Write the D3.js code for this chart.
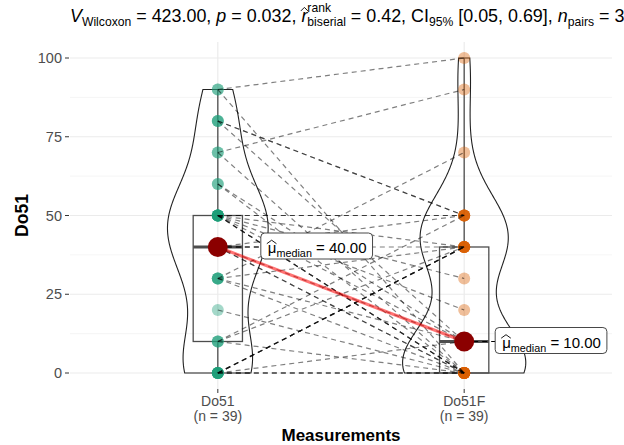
<!DOCTYPE html>
<html>
<head>
<meta charset="utf-8">
<script src="https://cdn.jsdelivr.net/npm/d3@7"></script>
<style>
  body { margin: 0; background: #fff; }
  text { font-family: "Liberation Sans", Arial, sans-serif; }
</style>
</head>
<body>
<svg id="chart" width="624" height="445"></svg>
<script>
// paired measurements (same subject in each position)
var groups = ["Do51", "Do51F"]
var groupLabels = ["(n = 39)", "(n = 39)"]
var pre  = [90,90, 80,80,80, 70,70, 60,60,
            50,50,50,50,50,50,50,50,50,
            40,40,40,40,40, 30,30,30,30, 20, 10,10,10,
            0,0,0,0,0,0,0,0]
var post = [100,0, 50,50,10, 90,0, 0,10,
            50,50,30,0,0,10,40,0,20,
            40,10,0,0,50, 70,10,0,40, 0, 0,40,50,
            0,0,0,40,40,40,10,40]
var yTicks = [0, 25, 50, 75, 100]
var yMinor = [12.5, 37.5, 62.5, 87.5]
var medianLabels = ["40.00", "10.00"]
var pointColors = ["#1b9e77", "#d95f02"]

var svg = d3.select("#chart")

var y = d3.scaleLinear().domain([-5, 105]).range([388.75, 42.25])
var x = d3.scalePoint().domain(groups).range([70, 612]).padding(0.6)
var step = x.step()

// grid
svg.selectAll(".minor").data(yMinor).enter().append("line")
    .attr("x1", 70).attr("x2", 612)
    .attr("y1", d => y(d)).attr("y2", d => y(d))
    .attr("stroke", "#f2f2f2").attr("stroke-width", 0.8)
svg.selectAll(".major").data(yTicks).enter().append("line")
    .attr("x1", 70).attr("x2", 612)
    .attr("y1", d => y(d)).attr("y2", d => y(d))
    .attr("stroke", "#ebebeb").attr("stroke-width", 1.2)
svg.selectAll(".vgrid").data(groups).enter().append("line")
    .attr("x1", d => x(d)).attr("x2", d => x(d))
    .attr("y1", 42).attr("y2", 389)
    .attr("stroke", "#ebebeb").attr("stroke-width", 1.2)

// y axis
svg.selectAll(".ytick").data(yTicks).enter().append("line")
    .attr("x1", 65).attr("x2", 69)
    .attr("y1", d => y(d)).attr("y2", d => y(d))
    .attr("stroke", "#333").attr("stroke-width", 1)
svg.selectAll(".ylab").data(yTicks).enter().append("text")
    .attr("x", 62).attr("y", d => y(d) + 5)
    .attr("text-anchor", "end").attr("font-size", 14.5).attr("fill", "#4d4d4d")
    .text(d => d)
svg.append("text")
    .attr("transform", "translate(28," + y(50) + ") rotate(-90)")
    .attr("text-anchor", "middle").attr("font-size", 17.5).attr("font-weight", "bold")
    .text("Do51")

// x axis
svg.selectAll(".xtick").data(groups).enter().append("line")
    .attr("x1", d => x(d)).attr("x2", d => x(d))
    .attr("y1", 389).attr("y2", 393)
    .attr("stroke", "#333").attr("stroke-width", 1)
svg.selectAll(".xlab").data(groups).enter().append("text")
    .attr("x", d => x(d)).attr("y", 406)
    .attr("text-anchor", "middle").attr("font-size", 14).attr("fill", "#4d4d4d")
    .text(d => d)
svg.selectAll(".xlab2").data(groups).enter().append("text")
    .attr("x", d => x(d)).attr("y", 421)
    .attr("text-anchor", "middle").attr("font-size", 14).attr("fill", "#4d4d4d")
    .text((d, i) => groupLabels[i])
svg.append("text")
    .attr("x", 341).attr("y", 441)
    .attr("text-anchor", "middle").attr("font-size", 17).attr("font-weight", "bold")
    .text("Measurements")

// violins (gaussian kde, nrd0 bandwidth, area scaling)
var series = [pre, post]
function kde(vals) {
    var s = vals.slice().sort(d3.ascending)
    var iqr = d3.quantile(s, 0.75) - d3.quantile(s, 0.25)
    var bw = 0.9 * Math.min(d3.deviation(s), iqr / 1.34) * Math.pow(s.length, -0.2)
    var lo = d3.min(s), hi = d3.max(s)
    var pts = d3.range(0, 201).map(i => lo + (hi - lo) * i / 200)
    return pts.map(v => [v, d3.mean(s, d => Math.exp(-0.5 * ((v - d) / bw) ** 2)) / (bw * Math.sqrt(2 * Math.PI))])
}
var dens = series.map(kde)
var maxD = d3.max(dens, d => d3.max(d, e => e[1]))
var halfW = d3.scaleLinear().domain([0, maxD]).range([0, step * 0.25])

dens.forEach(function (dd, i) {
    var cx = x(groups[i])
    var right = dd.map(d => [cx + halfW(d[1]), y(d[0])])
    var left = dd.slice().reverse().map(d => [cx - halfW(d[1]), y(d[0])])
    svg.append("path")
        .attr("d", d3.line()(right.concat(left)) + "Z")
        .attr("fill", "none").attr("stroke", "#222").attr("stroke-width", 1.1)
})

// boxplots
series.forEach(function (vals, i) {
    var s = vals.slice().sort(d3.ascending)
    var q1 = d3.quantile(s, 0.25), q2 = d3.quantile(s, 0.5), q3 = d3.quantile(s, 0.75)
    var iqr = q3 - q1
    var wLo = d3.min(s.filter(v => v >= q1 - 1.5 * iqr))
    var wHi = d3.max(s.filter(v => v <= q3 + 1.5 * iqr))
    var cx = x(groups[i]), bw = step * 0.2
    var g = svg.append("g").attr("stroke", "#4d4d4d")
    g.append("line").attr("x1", cx).attr("x2", cx).attr("y1", y(q3)).attr("y2", y(wHi)).attr("stroke-width", 1.3)
    g.append("line").attr("x1", cx).attr("x2", cx).attr("y1", y(q1)).attr("y2", y(wLo)).attr("stroke-width", 1.3)
    g.append("rect").attr("x", cx - bw / 2).attr("y", y(q3)).attr("width", bw).attr("height", y(q1) - y(q3))
        .attr("fill", "none").attr("stroke-width", 1.3)
    g.append("line").attr("x1", cx - bw / 2).attr("x2", cx + bw / 2).attr("y1", y(q2)).attr("y2", y(q2)).attr("stroke-width", 3)
})

// points
series.forEach(function (vals, i) {
    svg.append("g").selectAll("circle").data(vals).enter().append("circle")
        .attr("cx", x(groups[i])).attr("cy", d => y(d)).attr("r", 6)
        .attr("fill", pointColors[i]).attr("fill-opacity", 0.4)
})

// paired lines
svg.append("g").selectAll("line").data(pre).enter().append("line")
    .attr("x1", x(groups[0])).attr("y1", d => y(d))
    .attr("x2", x(groups[1])).attr("y2", (d, i) => y(post[i]))
    .attr("stroke", "#000").attr("stroke-opacity", 0.5)
    .attr("stroke-width", 1.2).attr("stroke-dasharray", "5,4")

// medians
var meds = series.map(v => d3.median(v))
svg.append("line")
    .attr("x1", x(groups[0])).attr("y1", y(meds[0]))
    .attr("x2", x(groups[1])).attr("y2", y(meds[1]))
    .attr("stroke", "red").attr("stroke-opacity", 0.55).attr("stroke-width", 3)

// rich text helper
function rich(parent, x0, y0, size, segs) {
    var cur = x0
    segs.forEach(function (s) {
        var fs = size * (s.scale || 1)
        var t = parent.append("text").attr("x", cur).attr("y", y0 + (s.dy || 0))
            .attr("font-size", fs).attr("font-style", s.italic ? "italic" : null)
            .style("white-space", "pre").text(s.t)
        var w = t.node().getComputedTextLength()
        if (s.hat) {
            var hy = y0 - size * 0.62
            parent.append("path")
                .attr("d", "M" + (cur + (s.hatDx || 0)) + "," + hy + " L" + (cur + w / 2 + (s.hatDx || 0) + 0.5) + "," + (hy - 3.5) + " L" + (cur + w + (s.hatDx || 0) + 1) + "," + hy)
                .attr("fill", "none").attr("stroke", "#000").attr("stroke-width", 0.9)
        }
        if (!s.stack) cur += w
    })
    return cur - x0
}

// median labels
var labelOffsets = [[43, -14], [31, -14]]
meds.forEach(function (m, i) {
    var cx = x(groups[i]), cy = y(m)
    var lx = cx + labelOffsets[i][0], ly = cy + labelOffsets[i][1]
    svg.append("line").attr("x1", cx).attr("x2", lx).attr("y1", cy).attr("y2", cy)
        .attr("stroke", "#000").attr("stroke-width", 1.2).attr("stroke-dasharray", "5,4")
    var g = svg.append("g")
    var rect = g.append("rect")
    var tw = rich(g, lx + 7, ly + 20, 15, [
        { t: "μ", hat: true, hatDx: -1 },
        { t: "median", scale: 0.72, dy: 4 },
        { t: " = " + medianLabels[i] }
    ])
    rect.attr("x", lx).attr("y", ly).attr("width", tw + 13).attr("height", 26)
        .attr("rx", 4).attr("fill", "#fff").attr("stroke", "#333").attr("stroke-width", 0.9)
    svg.append("circle").attr("cx", cx).attr("cy", cy).attr("r", 10).attr("fill", "#8b0000")
})

// subtitle
var title = svg.append("g")
rich(title, 70, 22, 17.9, [
    { t: "V", italic: true },
    { t: "Wilcoxon", scale: 0.68, dy: 4 },
    { t: " = 423.00, " },
    { t: "p", italic: true },
    { t: " = 0.032, " },
    { t: "r", italic: true, hat: true, hatDx: -0.5 },
    { t: "rank", scale: 0.68, dy: -10, stack: true },
    { t: "biserial", scale: 0.68, dy: 4 },
    { t: " = 0.42, CI" },
    { t: "95%", scale: 0.68, dy: 4 },
    { t: " [0.05, 0.69], " },
    { t: "n", italic: true },
    { t: "pairs", scale: 0.68, dy: 4 },
    { t: " = 39" }
])
</script>
</body>
</html>
